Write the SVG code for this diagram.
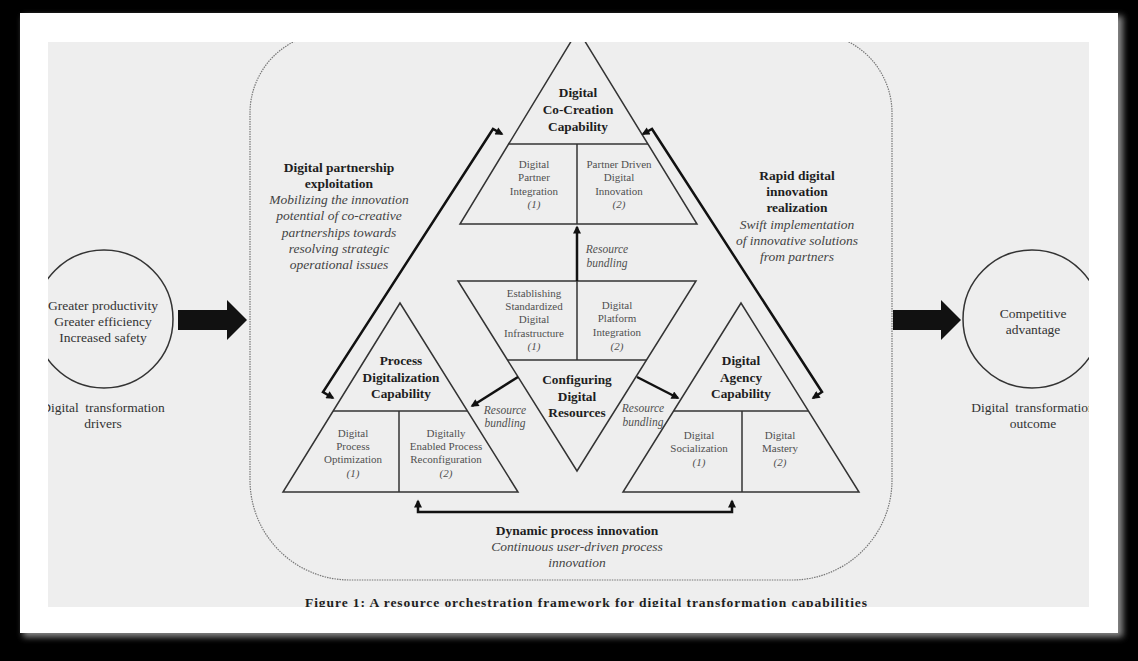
<svg xmlns="http://www.w3.org/2000/svg" width="1138" height="661" viewBox="0 0 1138 661">
<defs>
<clipPath id="area"><rect x="48" y="42" width="1041" height="565"/></clipPath>
<filter id="sh" x="-5%" y="-5%" width="110%" height="110%"><feGaussianBlur stdDeviation="3"/></filter>
<marker id="ah" viewBox="0 0 10 10" refX="8" refY="5" markerWidth="9" markerHeight="8" markerUnits="userSpaceOnUse" orient="auto-start-reverse"><path d="M0,0 L10,5 L0,10 z" fill="#111"/></marker>
<style>
text{font-family:"Liberation Serif","Times New Roman",serif;text-anchor:middle}
.b{font-weight:bold;font-size:13.3px;fill:#1e1e1e}
.s{font-size:11px;fill:#505050}
.si{font-size:11px;fill:#505050;font-style:italic}
.ri{font-size:11.5px;fill:#505050;font-style:italic}
.lb{font-weight:bold;font-size:13.5px;fill:#1e1e1e}
.li{font-style:italic;font-size:13.5px;fill:#444}
.c{font-size:13.5px;fill:#333}
.tri{fill:none;stroke:#333;stroke-width:1.5;stroke-linejoin:miter}
.div{stroke:#333;stroke-width:1.5}
.arr{fill:none;stroke:#111;stroke-width:2.5;stroke-linejoin:miter}
</style>
</defs>
<rect width="1138" height="661" fill="#000"/>
<rect x="23" y="16" width="1100" height="621" fill="#888" filter="url(#sh)"/>
<rect x="20" y="13" width="1098" height="620" fill="#fff"/>
<rect x="48" y="42" width="1041" height="565" fill="#eeeeee"/>
<g clip-path="url(#area)">
<path id="frame" d="M330,33 H812 A80,80 0 0 1 892,113 V480 A100,100 0 0 1 792,580 H350 A100,100 0 0 1 250,480 V113 A80,80 0 0 1 330,33 Z" fill="none" stroke="#777" stroke-width="1.2" stroke-dasharray="1.5 1"/>

<g id="drivers">
<circle cx="104" cy="319" r="69" fill="none" stroke="#333" stroke-width="1.5"/>
<text class="c" x="103" y="310">Greater productivity</text>
<text class="c" x="103" y="326">Greater efficiency</text>
<text class="c" x="103" y="342">Increased safety</text>
<text class="c" x="103" y="412" word-spacing="3">Digital transformation</text>
<text class="c" x="103" y="428">drivers</text>
</g>

<g id="outcome">
<circle cx="1032" cy="319" r="69" fill="none" stroke="#333" stroke-width="1.5"/>
<text class="c" x="1033" y="318">Competitive</text>
<text class="c" x="1033" y="334">advantage</text>
<text class="c" x="1033" y="412" word-spacing="3">Digital transformation</text>
<text class="c" x="1033" y="428">outcome</text>
</g>

<g id="cocreation">
<polygon class="tri" points="578,30 460,224 697,224"/>
<line class="div" x1="508" y1="144" x2="648" y2="144"/>
<line class="div" x1="577" y1="144" x2="577" y2="224"/>
<text class="b" x="578" y="97">Digital</text>
<text class="b" x="578" y="114">Co-Creation</text>
<text class="b" x="578" y="131">Capability</text>
<text class="s" x="534" y="168">Digital</text>
<text class="s" x="534" y="181">Partner</text>
<text class="s" x="534" y="195">Integration</text>
<text class="si" x="534" y="208">(1)</text>
<text class="s" x="619" y="168">Partner Driven</text>
<text class="s" x="619" y="181">Digital</text>
<text class="s" x="619" y="195">Innovation</text>
<text class="si" x="619" y="208">(2)</text>
</g>

<g id="configuring">
<polygon class="tri" points="458,281 696,281 577,471"/>
<line class="div" x1="507.5" y1="360" x2="646.5" y2="360"/>
<line class="div" x1="577" y1="281" x2="577" y2="360"/>
<text class="s" x="534" y="297">Establishing</text>
<text class="s" x="534" y="310">Standardized</text>
<text class="s" x="534" y="323">Digital</text>
<text class="s" x="534" y="337">Infrastructure</text>
<text class="si" x="534" y="350">(1)</text>
<text class="s" x="617" y="309">Digital</text>
<text class="s" x="617" y="322">Platform</text>
<text class="s" x="617" y="336">Integration</text>
<text class="si" x="617" y="350">(2)</text>
<text class="b" x="577" y="384">Configuring</text>
<text class="b" x="577" y="401">Digital</text>
<text class="b" x="577" y="417">Resources</text>
</g>

<g id="process">
<polygon class="tri" points="400,303 283,492 518,492"/>
<line class="div" x1="333" y1="411" x2="467" y2="411"/>
<line class="div" x1="399" y1="411" x2="399" y2="492"/>
<text class="b" x="401" y="365">Process</text>
<text class="b" x="401" y="382">Digitalization</text>
<text class="b" x="401" y="398">Capability</text>
<text class="s" x="353" y="437">Digital</text>
<text class="s" x="353" y="450">Process</text>
<text class="s" x="353" y="463">Optimization</text>
<text class="si" x="353" y="477">(1)</text>
<text class="s" x="446" y="437">Digitally</text>
<text class="s" x="446" y="450">Enabled Process</text>
<text class="s" x="446" y="463">Reconfiguration</text>
<text class="si" x="446" y="477">(2)</text>
</g>

<g id="agency">
<polygon class="tri" points="741,303 623,492 859,492"/>
<line class="div" x1="674" y1="411" x2="808" y2="411"/>
<line class="div" x1="742" y1="411" x2="742" y2="492"/>
<text class="b" x="741" y="365">Digital</text>
<text class="b" x="741" y="382">Agency</text>
<text class="b" x="741" y="398">Capability</text>
<text class="s" x="699" y="439">Digital</text>
<text class="s" x="699" y="452">Socialization</text>
<text class="si" x="699" y="466">(1)</text>
<text class="s" x="780" y="439">Digital</text>
<text class="s" x="780" y="452">Mastery</text>
<text class="si" x="780" y="466">(2)</text>
</g>

<g id="label-partnership">
<text class="lb" x="339" y="171.5">Digital partnership</text>
<text class="lb" x="339" y="187.5">exploitation</text>
<text class="li" x="339" y="204">Mobilizing the innovation</text>
<text class="li" x="339" y="220">potential of co-creative</text>
<text class="li" x="339" y="236.5">partnerships towards</text>
<text class="li" x="339" y="252.5">resolving strategic</text>
<text class="li" x="339" y="268.5">operational issues</text>
</g>

<g id="label-rapid">
<text class="lb" x="797" y="179.5">Rapid digital</text>
<text class="lb" x="797" y="196">innovation</text>
<text class="lb" x="797" y="212">realization</text>
<text class="li" x="797" y="228.5">Swift implementation</text>
<text class="li" x="797" y="245">of innovative solutions</text>
<text class="li" x="797" y="261">from partners</text>
</g>

<g id="label-dynamic">
<text class="lb" x="577" y="535">Dynamic process innovation</text>
<text class="li" x="577" y="551">Continuous user-driven process</text>
<text class="li" x="577" y="567">innovation</text>
</g>

<g id="bundling-labels">
<text class="ri" x="607" y="253">Resource</text>
<text class="ri" x="607" y="267">bundling</text>
<text class="ri" x="505" y="414">Resource</text>
<text class="ri" x="505" y="427">bundling</text>
<text class="ri" x="643" y="412">Resource</text>
<text class="ri" x="643" y="426">bundling</text>
</g>

<g id="connectors">
<polygon points="178,310 227,310 227,300 247,320 227,340 227,330 178,330" fill="#111"/>
<polygon points="893,310 941,310 941,300 961,320 941,340 941,330 893,330" fill="#111"/>
<path class="arr" d="M333,398 L323,392 L493,129 L502,134" marker-start="url(#ah)" marker-end="url(#ah)"/>
<path class="arr" d="M813,398 L822,392 L652,129 L643,134" marker-start="url(#ah)" marker-end="url(#ah)"/>
<path class="arr" stroke-width="2.2" d="M577,281 L577,227" marker-end="url(#ah)"/>
<path class="arr" stroke-width="2.2" d="M518,377 L472,406" marker-end="url(#ah)"/>
<path class="arr" stroke-width="2.2" d="M637,377 L678,398" marker-end="url(#ah)"/>
<path class="arr" stroke-width="2" d="M418,501 L418,512 L732,512 L732,501" marker-start="url(#ah)" marker-end="url(#ah)"/>
</g>

<text class="lb" x="305" y="607" style="text-anchor:start" font-size="13" textLength="562" lengthAdjust="spacing">Figure 1: A resource orchestration framework for digital transformation capabilities</text>
</g>
</svg>
